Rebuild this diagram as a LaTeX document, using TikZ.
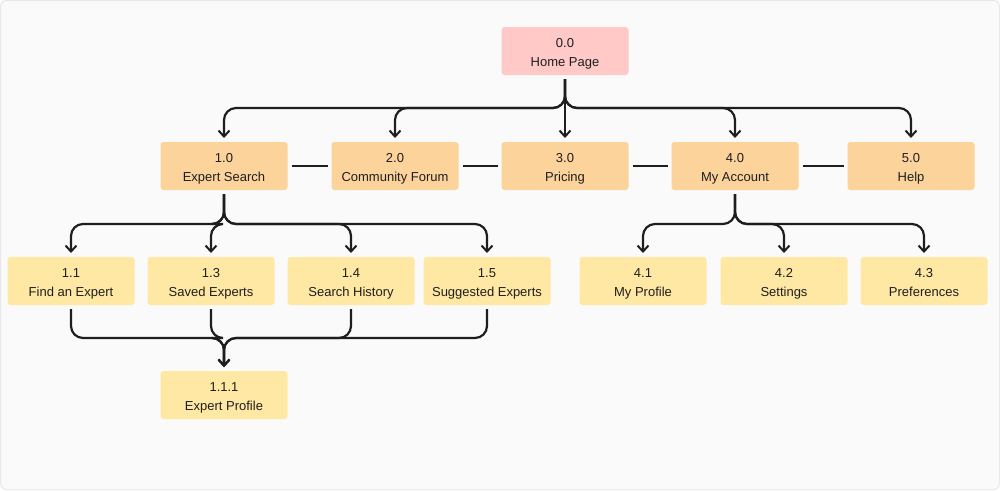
\documentclass[tikz,border=0pt]{standalone}
\usepackage{fontspec}
\setmainfont{Liberation Sans}
\usetikzlibrary{arrows.meta}
\definecolor{homefill}{HTML}{FFC9C7}
\definecolor{topfill}{HTML}{FDD39C}
\definecolor{subfill}{HTML}{FFE8A3}
\definecolor{bgfill}{HTML}{FAFAFA}
\definecolor{bgline}{HTML}{E8E8E8}
\definecolor{ink}{HTML}{1E1E1E}
\begin{document}
\begin{tikzpicture}[x=1pt,y=-1pt,
  page/.style={rectangle,rounded corners=3pt,minimum width=127pt,minimum height=48pt,
    inner sep=0pt,outer sep=4pt,align=center,text=ink,font=\fontsize{13}{19}\selectfont,
    text height=36pt,text depth=6pt},
  home/.style={page,fill=homefill},
  toppage/.style={page,fill=topfill},
  subpage/.style={page,fill=subfill},
  link/.style={draw=ink,line width=2.2pt,rounded corners=12pt,-{Straight Barb[length=6pt,width=11pt,line width=2pt]}},
  peer/.style={draw=ink,line width=2.2pt}]
 % background
 \useasboundingbox (0,0) rectangle (1000,490);
 \draw[fill=bgfill,draw=bgline,line width=1pt,rounded corners=6pt] (0.5,0.5) rectangle (999.5,489.5);
 % home
 \node[home] (p00) at (565,51) {0.0\\Home Page};
 % first level
 \node[toppage] (p10) at (224,166) {1.0\\Expert Search};
 \node[toppage] (p20) at (395,166) {2.0\\Community Forum};
 \node[toppage] (p30) at (565,166) {3.0\\Pricing};
 \node[toppage] (p40) at (735,166) {4.0\\My Account};
 \node[toppage] (p50) at (911,166) {5.0\\Help};
 % second level
 \node[subpage] (p11) at (71,281) {1.1\\Find an Expert};
 \node[subpage] (p13) at (211,281) {1.3\\Saved Experts};
 \node[subpage] (p14) at (351,281) {1.4\\Search History};
 \node[subpage] (p15) at (487,281) {1.5\\Suggested Experts};
 \node[subpage] (p41) at (643,281) {4.1\\My Profile};
 \node[subpage] (p42) at (784,281) {4.2\\Settings};
 \node[subpage] (p43) at (924,281) {4.3\\Preferences};
 \node[subpage] (p111) at (224,395) {1.1.1\\Expert Profile};
 % home to first level
 \foreach \t in {p10,p20,p40,p50}
  \draw[link] (p00.south) |- (\t.north |- 0,108) -- (\t.north);
 \draw[link] (p00.south) -- (p30.north);
 % first level peers
 \draw[peer] (p10.east) -- (p20.west);
 \draw[peer] (p20.east) -- (p30.west);
 \draw[peer] (p30.east) -- (p40.west);
 \draw[peer] (p40.east) -- (p50.west);
 % expert search children
 \foreach \t in {p11,p13,p14,p15}
  \draw[link] (p10.south) |- (\t.north |- 0,224) -- (\t.north);
 % my account children
 \foreach \t in {p41,p42,p43}
  \draw[link] (p40.south) |- (\t.north |- 0,224) -- (\t.north);
 % into expert profile
 \foreach \s in {p11,p13,p14,p15}
  \draw[link] (\s.south) |- (p111.north |- 0,338) -- (p111.north);
\end{tikzpicture}
\end{document}
